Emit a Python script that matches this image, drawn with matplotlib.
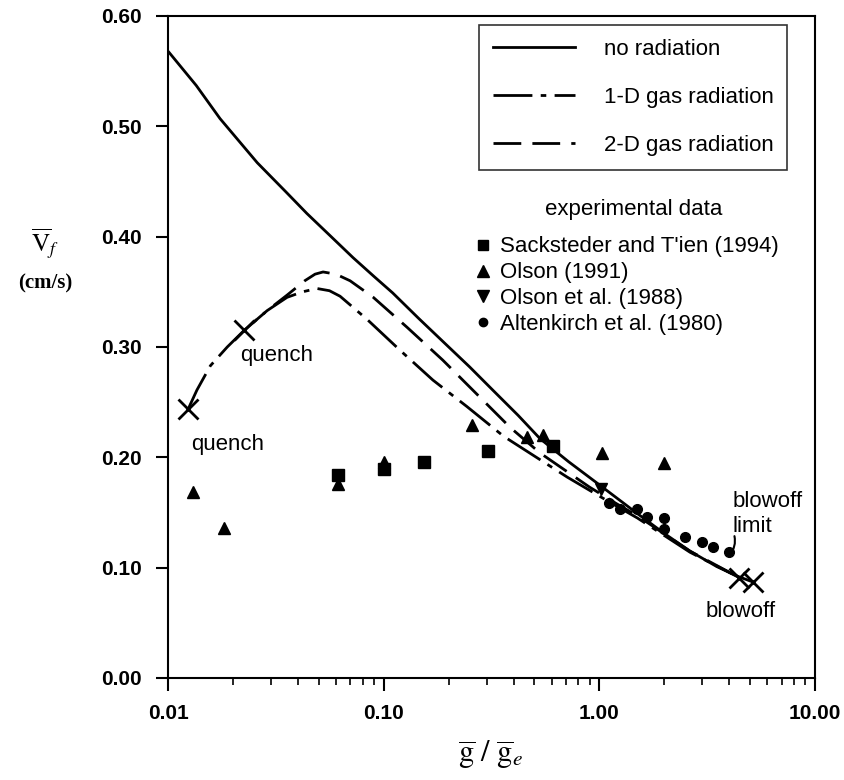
import matplotlib
matplotlib.use("Agg")
import matplotlib.pyplot as plt
from matplotlib.lines import Line2D

plt.rcParams['font.family'] = ['Liberation Sans', 'DejaVu Sans']
plt.rcParams['mathtext.fontset'] = 'stix'

# model curves (g/ge, flame spread velocity cm/s)
norad_x = [0.01, 0.0135, 0.0174, 0.0259, 0.035, 0.044, 0.057, 0.072, 0.09, 0.11, 0.145, 0.188,
           0.25, 0.32, 0.42, 0.53, 0.72, 0.97, 1.5, 2.0, 2.63, 3.5, 4.4, 5.15]
norad_y = [0.568, 0.537, 0.507, 0.467, 0.441, 0.421, 0.400, 0.381, 0.364, 0.349, 0.326, 0.305,
           0.282, 0.261, 0.238, 0.217, 0.196, 0.177, 0.149, 0.131, 0.115, 0.101, 0.092, 0.087]

rad1d_x = [0.0124, 0.0136, 0.0157, 0.0188, 0.0225, 0.0288, 0.0356, 0.042, 0.049, 0.056, 0.0627,
           0.0837, 0.119, 0.169, 0.243, 0.36, 0.71, 1.08, 1.5, 2.63, 4.45]
rad1d_y = [0.244, 0.261, 0.283, 0.300, 0.315, 0.333, 0.345, 0.350, 0.353, 0.351, 0.346,
           0.325, 0.297, 0.270, 0.246, 0.219, 0.182, 0.161, 0.145, 0.114, 0.091]

rad2d_x = [0.0225, 0.0288, 0.0356, 0.043, 0.048, 0.0523, 0.06, 0.0698, 0.0894, 0.128, 0.188,
           0.271, 0.386, 0.53, 0.9, 1.2, 1.5, 2.63, 4.45]
rad2d_y = [0.315, 0.333, 0.347, 0.360, 0.366, 0.368, 0.366, 0.360, 0.345, 0.318, 0.288,
           0.257, 0.227, 0.204, 0.173, 0.158, 0.147, 0.115, 0.091]

# experimental data
sack_x = [0.0616, 0.1, 0.154, 0.303, 0.61]
sack_y = [0.184, 0.189, 0.196, 0.206, 0.210]
olson91_x = [0.0131, 0.0182, 0.0616, 0.1, 0.257, 0.46, 0.55, 1.03, 2.0]
olson91_y = [0.169, 0.136, 0.176, 0.196, 0.229, 0.218, 0.220, 0.204, 0.195]
olson88_x = [1.02]
olson88_y = [0.171]
alt_x = [1.11, 1.25, 1.49, 1.67, 2.0, 2.0, 2.5, 3.0, 3.35, 4.0]
alt_y = [0.159, 0.153, 0.153, 0.146, 0.145, 0.135, 0.128, 0.123, 0.119, 0.114]

xticks = [0.01, 0.1, 1, 10]
xticklabels = ['0.01', '0.10', '1.00', '10.00']
yticks = [0.0, 0.1, 0.2, 0.3, 0.4, 0.5, 0.6]

fig = plt.figure(figsize=(8.45, 7.8), dpi=100)
ax = fig.add_axes([0.199, 0.1308, 0.7655, 0.8487])

lw = 2.0
dashdot = (0, (14, 3, 2, 3))
dashed = (0, (10, 4))
ax.plot(norad_x, norad_y, color='black', lw=lw, solid_capstyle='butt')
ax.plot(rad1d_x, rad1d_y, color='black', lw=lw, linestyle=dashdot)
ax.plot(rad2d_x, rad2d_y, color='black', lw=lw, linestyle=dashed)

# quench and blowoff end points
ax.plot([rad1d_x[0], rad2d_x[0]], [rad1d_y[0], rad2d_y[0]], 'x', color='black', ms=14, mew=2)
ax.plot([rad1d_x[-1], norad_x[-1]], [rad1d_y[-1], norad_y[-1]], 'x', color='black', ms=14, mew=2)

ms = 8
ax.plot(sack_x, sack_y, 's', color='black', ms=ms)
ax.plot(olson91_x, olson91_y, '^', color='black', ms=ms + 1)
ax.plot(olson88_x, olson88_y, 'v', color='black', ms=ms + 1)
ax.plot(alt_x, alt_y, 'o', color='black', ms=ms - 1)

fs = 16
ax.text(0.0188, 0.212, 'quench', fontsize=fs, ha='center', va='center')
ax.text(0.0317, 0.292, 'quench', fontsize=fs, ha='center', va='center')
ax.text(4.15, 0.160, 'blowoff', fontsize=fs, ha='left', va='center')
ax.text(4.15, 0.137, 'limit', fontsize=fs, ha='left', va='center')
ax.text(4.5, 0.060, 'blowoff', fontsize=fs, ha='center', va='center')
ax.annotate('', xy=(3.95, 0.110), xytext=(4.2, 0.131),
            arrowprops=dict(arrowstyle='-', color='black', lw=1.5, connectionstyle='arc3,rad=-0.3'))

ax.set_xscale('log')
ax.set_xlim(0.01, 10)
ax.set_ylim(0, 0.6)
ax.set_xticks(xticks)
ax.set_xticklabels(xticklabels)
ax.set_yticks(yticks)
ax.set_yticklabels(['%.2f' % v for v in yticks])
ax.tick_params(axis='both', which='major', direction='out', length=9, width=1.5,
               labelsize=15, pad=10)
ax.tick_params(axis='x', which='minor', direction='out', length=5, width=1.2)
for lab in ax.get_xticklabels() + ax.get_yticklabels():
    lab.set_fontweight('bold')
for sp in ax.spines.values():
    sp.set_linewidth(1.5)

# legends
line_handles = [
    Line2D([], [], color='black', lw=lw),
    Line2D([], [], color='black', lw=lw, linestyle=dashdot),
    Line2D([], [], color='black', lw=lw, linestyle=dashed),
]
leg1 = ax.legend(line_handles, ['no radiation', '1-D gas radiation', '2-D gas radiation'],
                 loc='upper left', bbox_to_anchor=(0.481, 0.986), borderaxespad=0,
                 fontsize=fs, handlelength=3.7, handletextpad=1.3, labelspacing=1.23,
                 frameon=True, fancybox=False, edgecolor='black', borderpad=0.6)
leg1.get_frame().set_linewidth(1.2)
ax.add_artist(leg1)

ax.text(0.719, 0.707, 'experimental data', transform=ax.transAxes, fontsize=fs,
        ha='center', va='center')

mk_handles = [
    Line2D([], [], marker='s', color='black', ls='', ms=ms - 1),
    Line2D([], [], marker='^', color='black', ls='', ms=ms),
    Line2D([], [], marker='v', color='black', ls='', ms=ms),
    Line2D([], [], marker='o', color='black', ls='', ms=ms - 2),
]
leg2 = ax.legend(mk_handles, ['Sacksteder and T\'ien (1994)', 'Olson (1991)',
                              'Olson et al. (1988)', 'Altenkirch et al. (1980)'],
                 loc='upper left', bbox_to_anchor=(0.476, 0.667), borderaxespad=0,
                 fontsize=fs, handlelength=0.6, handletextpad=0.5, labelspacing=0.22,
                 frameon=False, borderpad=0)

fig.text(0.053, 0.688, r'$\overline{\mathrm{V}}_{f}$', fontsize=18, ha='center', va='center')
fig.text(0.053, 0.637, '(cm/s)', fontsize=15, ha='center', va='center',
         family='Liberation Serif', fontweight='bold')
fig.text(0.58, 0.032, r'$\overline{\mathrm{g}}\ /\ \overline{\mathrm{g}}_{e}$', fontsize=22,
         ha='center', va='center')

fig.savefig('out.png', dpi=100)
